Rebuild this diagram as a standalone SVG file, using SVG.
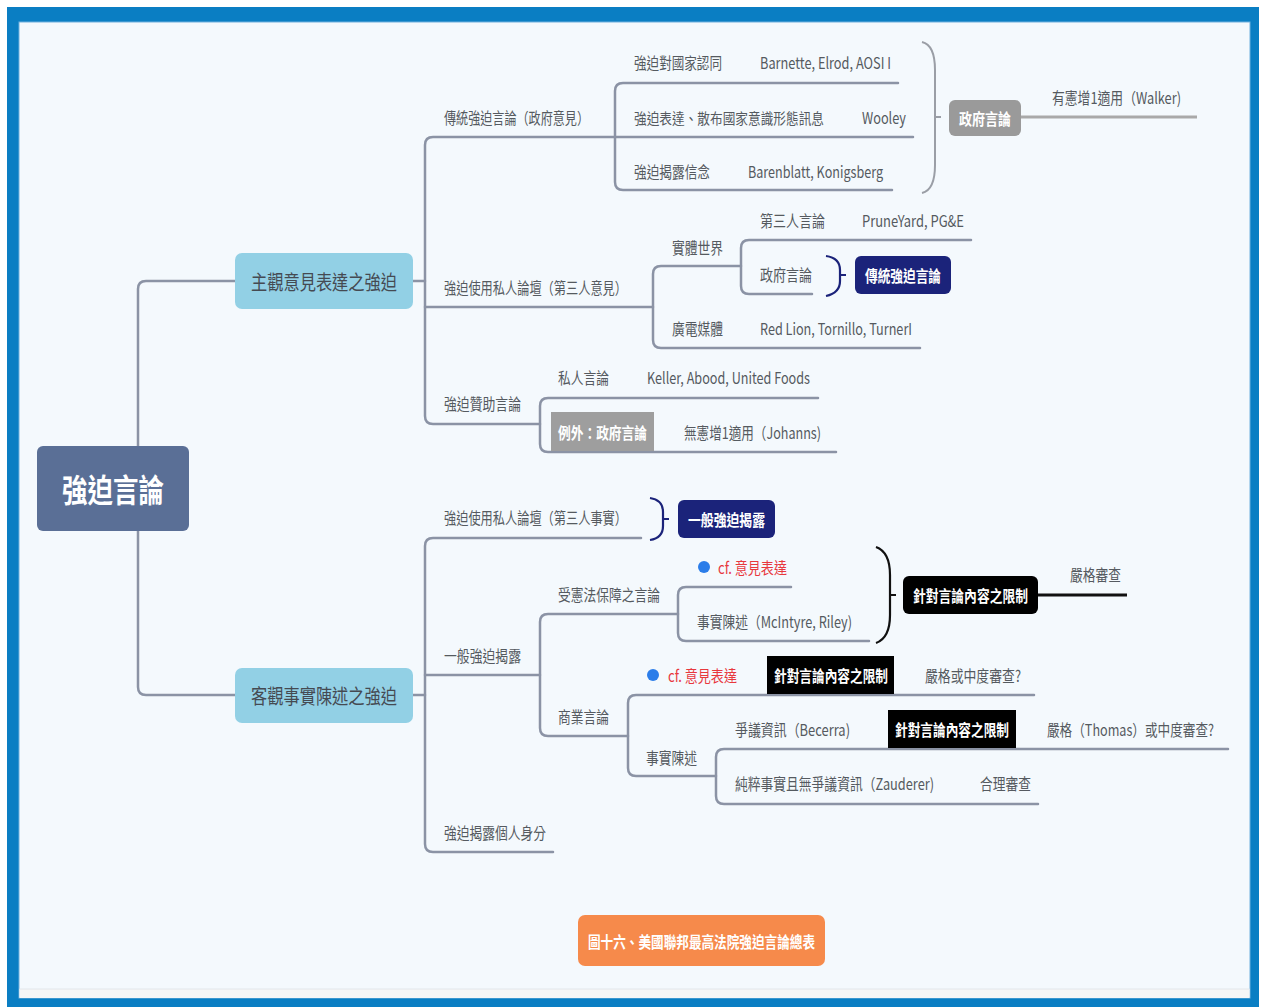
<svg xmlns="http://www.w3.org/2000/svg" width="1266" height="1007" viewBox="0 0 1266 1007">
<style>
text{font-family:"Noto Sans CJK TC","Noto Sans",sans-serif;dominant-baseline:central}
.t{font-size:16px;fill:#555a60}
.tp{font-size:20px;fill:#454a52}
.bx{font-size:16px;fill:#fff;font-weight:700}
.red{font-size:16px;fill:#e8383d}
.ln{fill:none;stroke:#8b93a5;stroke-width:2.5;stroke-linecap:round}
.sumG{fill:none;stroke:#9a9ea6;stroke-width:2}
.sumN{fill:none;stroke:#1b237a;stroke-width:2.2}
.sumK{fill:none;stroke:#111;stroke-width:2.2}
</style>
<rect x="0" y="0" width="1266" height="1007" fill="#ffffff"/>
<rect x="7" y="7" width="1252" height="1000" fill="#0a7ec3"/>
<rect x="19" y="22" width="1231" height="976" fill="#f4f9fd" stroke="#6fb0de" stroke-width="1"/>
<rect x="19.5" y="989" width="1230" height="9" fill="#f7f7f7"/>
<line x1="19.5" y1="989" x2="1249.5" y2="989" stroke="#e2e6ea" stroke-width="1"/>

<g id="connectors">
  <path class="ln" d="M138,446 L138,289 Q138,281 146,281 L235,281"/>
  <path class="ln" d="M138,531 L138,687 Q138,695 146,695 L235,695"/>
  <path class="ln" d="M413,281 L425,281"/>
  <path class="ln" d="M913,137 L433,137 Q425,137 425,145 L425,416 Q425,424 433,424 L540,424"/>
  <path class="ln" d="M425,307 L653,307"/>
  <path class="ln" d="M898,83 L623,83 Q615,83 615,91 L615,182 Q615,190 623,190 L892,190"/>
  <path class="ln" d="M741,266 L661,266 Q653,266 653,274 L653,340 Q653,348 661,348 L920,348"/>
  <path class="ln" d="M971,240 L749,240 Q741,240 741,248 L741,286 Q741,294 749,294 L812,294"/>
  <path class="ln" d="M818,398 L548,398 Q540,398 540,406 L540,444 Q540,452 548,452 L836,452"/>
  <path class="ln" d="M413,695 L425,695"/>
  <path class="ln" d="M641,538 L433,538 Q425,538 425,546 L425,844 Q425,852 433,852 L553,852"/>
  <path class="ln" d="M425,675 L540,675"/>
  <path class="ln" d="M678,614 L548,614 Q540,614 540,622 L540,728 Q540,736 548,736 L628,736"/>
  <path class="ln" d="M791,587 L686,587 Q678,587 678,595 L678,633 Q678,641 686,641 L869,641"/>
  <path class="ln" d="M1034,695 L636,695 Q628,695 628,703 L628,768 Q628,776 636,776 L716,776"/>
  <path class="ln" d="M1228,749 L724,749 Q716,749 716,757 L716,796 Q716,804 724,804 L1038,804"/>
  <path class="sumG" d="M922,42 Q935,45 935,70 L935,165 Q935,190 922,193 M935,117 L941,117"/>
  <path d="M1021,117 L1197,117" fill="none" stroke="#a9a9a9" stroke-width="3"/>
  <path class="sumN" d="M826,256 Q840,258 840,270 L840,281 Q840,293 826,296 M840,275 L846,275"/>
  <path class="sumN" d="M650,498 Q663,500 663,512 L663,526 Q663,538 650,540 M663,519 L669,519"/>
  <path class="sumK" d="M876,547 Q890,552 890,575 L890,615 Q890,638 876,643 M890,595 L896,595"/>
  <path d="M1038,595 L1127,595" fill="none" stroke="#111" stroke-width="3"/>
</g>

<g id="root">
  <rect x="37" y="446" width="152" height="85" rx="6" fill="#5a6f96"/>
  <text x="62" y="488" font-size="32" font-weight="700" fill="#fff" textLength="102" lengthAdjust="spacingAndGlyphs">強迫言論</text>
</g>
<g id="topic1">
  <rect x="235" y="253" width="178" height="56" rx="7" fill="#92d0e5"/>
  <text class="tp" x="251" y="281" textLength="146" lengthAdjust="spacingAndGlyphs">主觀意見表達之強迫</text>
</g>
<g id="topic2">
  <rect x="235" y="668" width="178" height="55" rx="7" fill="#92d0e5"/>
  <text class="tp" x="251" y="695" textLength="146" lengthAdjust="spacingAndGlyphs">客觀事實陳述之強迫</text>
</g>

<g id="n-traditional">
  <text class="t" x="444" y="117" textLength="145" lengthAdjust="spacingAndGlyphs">傳統強迫言論（政府意見）</text>
</g>
<g id="n-identity">
  <text class="t" x="634" y="62" textLength="88" lengthAdjust="spacingAndGlyphs">強迫對國家認同</text>
  <text class="t" x="760" y="62" textLength="131" lengthAdjust="spacingAndGlyphs">Barnette, Elrod, AOSI I</text>
</g>
<g id="n-ideology">
  <text class="t" x="634" y="117" font-size="15" style="font-size:15px" textLength="190" lengthAdjust="spacingAndGlyphs">強迫表達、散布國家意識形態訊息</text>
  <text class="t" x="862" y="117" textLength="44" lengthAdjust="spacingAndGlyphs">Wooley</text>
</g>
<g id="n-belief">
  <text class="t" x="634" y="171" textLength="76" lengthAdjust="spacingAndGlyphs">強迫揭露信念</text>
  <text class="t" x="748" y="171" textLength="135" lengthAdjust="spacingAndGlyphs">Barenblatt, Konigsberg</text>
</g>
<g id="n-govspeech">
  <rect x="949" y="100" width="72" height="36" rx="6" fill="#9a9a9a"/>
  <text class="bx" x="959" y="118" textLength="52" lengthAdjust="spacingAndGlyphs">政府言論</text>
  <text class="t" x="1052" y="97" textLength="129" lengthAdjust="spacingAndGlyphs">有憲增1適用（Walker)</text>
</g>

<g id="n-forum-opinion">
  <text class="t" x="444" y="287" textLength="183" lengthAdjust="spacingAndGlyphs">強迫使用私人論壇（第三人意見）</text>
</g>
<g id="n-physical">
  <text class="t" x="672" y="247" textLength="51" lengthAdjust="spacingAndGlyphs">實體世界</text>
</g>
<g id="n-thirdparty">
  <text class="t" x="760" y="220" textLength="65" lengthAdjust="spacingAndGlyphs">第三人言論</text>
  <text class="t" x="862" y="220" textLength="102" lengthAdjust="spacingAndGlyphs">PruneYard, PG&amp;E</text>
</g>
<g id="n-gov2">
  <text class="t" x="760" y="274" textLength="52" lengthAdjust="spacingAndGlyphs">政府言論</text>
  <rect x="855" y="256" width="96" height="38" rx="6" fill="#1b237a"/>
  <text class="bx" x="865" y="275" textLength="76" lengthAdjust="spacingAndGlyphs">傳統強迫言論</text>
</g>
<g id="n-broadcast">
  <text class="t" x="672" y="328" textLength="51" lengthAdjust="spacingAndGlyphs">廣電媒體</text>
  <text class="t" x="760" y="328" textLength="152" lengthAdjust="spacingAndGlyphs">Red Lion, Tornillo, TurnerI</text>
</g>

<g id="n-subsidy">
  <text class="t" x="444" y="403" textLength="77" lengthAdjust="spacingAndGlyphs">強迫贊助言論</text>
</g>
<g id="n-private">
  <text class="t" x="558" y="377" textLength="51" lengthAdjust="spacingAndGlyphs">私人言論</text>
  <text class="t" x="647" y="377" textLength="163" lengthAdjust="spacingAndGlyphs">Keller, Abood, United Foods</text>
</g>
<g id="n-exception">
  <rect x="551" y="412" width="103" height="39" fill="#9e9e9e"/>
  <text class="bx" x="558" y="432" textLength="89" lengthAdjust="spacingAndGlyphs">例外：政府言論</text>
  <text class="t" x="684" y="432" textLength="137" lengthAdjust="spacingAndGlyphs">無憲增1適用（Johanns)</text>
</g>

<g id="n-forum-fact">
  <text class="t" x="444" y="517" textLength="183" lengthAdjust="spacingAndGlyphs">強迫使用私人論壇（第三人事實）</text>
  <rect x="678" y="500" width="97" height="38" rx="6" fill="#1b237a"/>
  <text class="bx" x="688" y="519" textLength="77" lengthAdjust="spacingAndGlyphs">一般強迫揭露</text>
</g>
<g id="n-general">
  <text class="t" x="444" y="655" textLength="77" lengthAdjust="spacingAndGlyphs">一般強迫揭露</text>
</g>
<g id="n-protected">
  <text class="t" x="558" y="594" textLength="102" lengthAdjust="spacingAndGlyphs">受憲法保障之言論</text>
</g>
<g id="n-cf1">
  <circle cx="704" cy="567" r="6" fill="#2b7de9"/>
  <text class="red" x="718" y="567" textLength="69" lengthAdjust="spacingAndGlyphs">cf. 意見表達</text>
</g>
<g id="n-fact1">
  <text class="t" x="697" y="621" textLength="155" lengthAdjust="spacingAndGlyphs">事實陳述（McIntyre, Riley)</text>
</g>
<g id="n-content1">
  <rect x="903" y="576" width="135" height="38" rx="6" fill="#000"/>
  <text class="bx" x="913" y="595" textLength="115" lengthAdjust="spacingAndGlyphs">針對言論內容之限制</text>
  <text class="t" x="1070" y="574" textLength="51" lengthAdjust="spacingAndGlyphs">嚴格審查</text>
</g>
<g id="n-commercial">
  <text class="t" x="558" y="716" textLength="51" lengthAdjust="spacingAndGlyphs">商業言論</text>
</g>
<g id="n-cf2">
  <circle cx="653" cy="675" r="6" fill="#2b7de9"/>
  <text class="red" x="668" y="675" textLength="69" lengthAdjust="spacingAndGlyphs">cf. 意見表達</text>
  <rect x="767" y="656" width="127" height="38" fill="#000"/>
  <text class="bx" x="774" y="675" textLength="114" lengthAdjust="spacingAndGlyphs">針對言論內容之限制</text>
  <text class="t" x="925" y="675" textLength="96" lengthAdjust="spacingAndGlyphs">嚴格或中度審查?</text>
</g>
<g id="n-fact2">
  <text class="t" x="646" y="757" textLength="51" lengthAdjust="spacingAndGlyphs">事實陳述</text>
</g>
<g id="n-controversial">
  <text class="t" x="735" y="729" textLength="115" lengthAdjust="spacingAndGlyphs">爭議資訊（Becerra)</text>
  <rect x="888" y="710" width="128" height="38" fill="#000"/>
  <text class="bx" x="895" y="729" textLength="114" lengthAdjust="spacingAndGlyphs">針對言論內容之限制</text>
  <text class="t" x="1047" y="729" textLength="167" lengthAdjust="spacingAndGlyphs">嚴格（Thomas）或中度審查?</text>
</g>
<g id="n-pure">
  <text class="t" x="735" y="783" textLength="199" lengthAdjust="spacingAndGlyphs">純粹事實且無爭議資訊（Zauderer)</text>
  <text class="t" x="980" y="783" textLength="51" lengthAdjust="spacingAndGlyphs">合理審查</text>
</g>
<g id="n-identity-disclosure">
  <text class="t" x="444" y="832" textLength="102" lengthAdjust="spacingAndGlyphs">強迫揭露個人身分</text>
</g>

<g id="caption">
  <rect x="578" y="915" width="247" height="51" rx="7" fill="#f68a4b"/>
  <text class="bx" x="588" y="941" textLength="227" lengthAdjust="spacingAndGlyphs">圖十六、美國聯邦最高法院強迫言論總表</text>
</g>
</svg>
